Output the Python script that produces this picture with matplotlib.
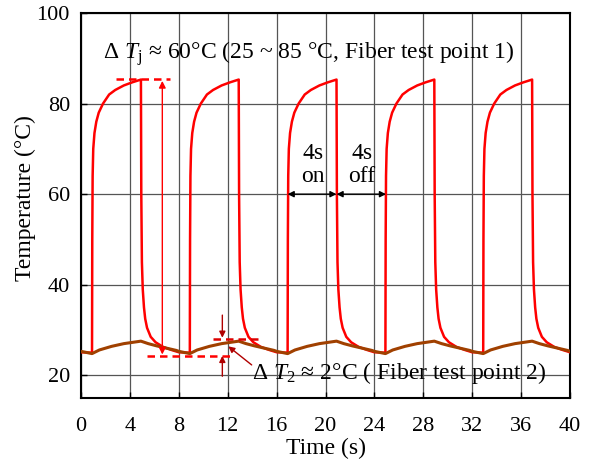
import numpy as np
import matplotlib
matplotlib.use("Agg")
import matplotlib.pyplot as plt

plt.rcParams['font.family'] = ['Liberation Serif', 'DejaVu Serif']
plt.rcParams['mathtext.fontset'] = 'custom'
plt.rcParams['mathtext.rm'] = 'Liberation Serif'
plt.rcParams['mathtext.it'] = 'Liberation Serif:italic'

# 每个周期的起点 (s)
cycle_starts = [0, 8, 16, 24, 32]

# 单个周期内的结温 Tj（光纤测点1），时间相对周期起点
tj_t = [0.0, 0.9, 0.92, 0.95, 1.0, 1.1, 1.25, 1.45, 1.8, 2.3, 2.8, 3.5, 4.2, 4.9,
        4.93, 4.98, 5.05, 5.15, 5.25, 5.4, 5.7, 6.1, 6.7, 7.4, 8.0]
tj_v = [25.1, 25.0, 50.0, 64.0, 70.0, 73.5, 76.0, 78.0, 80.0, 82.0, 83.0, 84.0, 84.7, 85.3,
        60.0, 45.0, 39.0, 35.0, 32.5, 30.5, 28.5, 27.3, 26.3, 25.6, 25.1]

# 单个周期内的测点2温度
t2_t = [0.0, 0.9, 1.5, 2.5, 3.5, 4.9, 5.5, 6.2, 7.0, 7.8, 8.0]
t2_v = [25.3, 24.8, 25.6, 26.4, 27.0, 27.55, 27.0, 26.5, 26.0, 25.5, 25.3]

t_j, v_j, t_2, v_2 = [], [], [], []
for s in cycle_starts:
    t_j += [s + t for t in tj_t]
    v_j += tj_v
    t_2 += [s + t for t in t2_t]
    v_2 += t2_v

fig = plt.figure(figsize=(5.94, 4.69), dpi=100)
ax = fig.add_axes([0.1364, 0.1514, 0.8232, 0.8209])

ax.plot(t_j, v_j, color='#ff0000', lw=1.8, zorder=4)
ax.plot(t_2, v_2, color='#a04000', lw=2.2, zorder=5)

ax.set_xlim(0, 40)
ax.set_ylim(15, 100)
ax.set_xticks(np.arange(0, 41, 4))
ax.set_yticks([20, 40, 60, 80, 100])
ax.grid(True, color='#555555', lw=0.9)
ax.tick_params(direction='in', labelsize=16, length=4, width=1)
ax.tick_params(axis='x', pad=14)
ax.tick_params(axis='y', pad=8)
for sp in ax.spines.values():
    sp.set_linewidth(1.5)
ax.set_xlabel("Time (s)", fontsize=17)
ax.set_ylabel("Temperature (°C)", fontsize=17)
ax.xaxis.set_label_coords(0.5, -0.104)
ax.yaxis.set_label_coords(-0.092, 0.52)

# ΔTj 标注
ax.text(1.8, 91.0, r"Δ $T_\mathrm{j}$ ≈ 60°C (25 ~ 85 °C, Fiber test point 1)",
        fontsize=17, va='center', ha='left', zorder=6)
ax.plot([2.86, 7.28], [85.4, 85.4], color='#ff0000', ls=(0, (3, 2)), lw=1.8, zorder=6)
ax.annotate('', xy=(6.65, 85.0), xytext=(6.65, 24.6),
            arrowprops=dict(arrowstyle='<|-|>', color='#ff0000', lw=1.0,
                            mutation_scale=10, shrinkA=0, shrinkB=0), zorder=6)
ax.plot([5.4, 12.2], [24.25, 24.25], color='#ff0000', ls=(0, (3, 2)), lw=1.8, zorder=6)

# ΔT2 标注
ax.plot([10.8, 14.8], [28.1, 28.1], color='#dd0000', ls=(0, (3, 2)), lw=1.8, zorder=6)
ax.annotate('', xy=(11.56, 28.3), xytext=(11.56, 33.3),
            arrowprops=dict(arrowstyle='-|>', color='#b00000', lw=1.0,
                            mutation_scale=9, shrinkA=0, shrinkB=0), zorder=6)
ax.annotate('', xy=(11.56, 24.3), xytext=(11.56, 19.8),
            arrowprops=dict(arrowstyle='-|>', color='#b00000', lw=1.0,
                            mutation_scale=9, shrinkA=0, shrinkB=0), zorder=6)
ax.annotate('', xy=(12.05, 26.4), xytext=(13.96, 22.3),
            arrowprops=dict(arrowstyle='-|>', color='#b00000', lw=1.0,
                            mutation_scale=9, shrinkA=0, shrinkB=0), zorder=6)
ax.text(14.0, 20.6, r"Δ $T_2$ ≈ 2°C ( Fiber test point 2)",
        fontsize=17, va='center', ha='left', zorder=6)

# 4s on / 4s off
ax.annotate('', xy=(16.9, 60), xytext=(20.9, 60),
            arrowprops=dict(arrowstyle='<|-|>', color='black', lw=1.0,
                            mutation_scale=9, shrinkA=0, shrinkB=0), zorder=6)
ax.annotate('', xy=(20.9, 60), xytext=(24.95, 60),
            arrowprops=dict(arrowstyle='<|-|>', color='black', lw=1.0,
                            mutation_scale=9, shrinkA=0, shrinkB=0), zorder=6)
ax.text(19.0, 66.4, "4s\non", fontsize=17, ha='center', va='center',
        linespacing=1.15, zorder=6)
ax.text(23.0, 66.4, "4s\noff", fontsize=17, ha='center', va='center',
        linespacing=1.15, zorder=6)

fig.savefig("out.png", dpi=100)
